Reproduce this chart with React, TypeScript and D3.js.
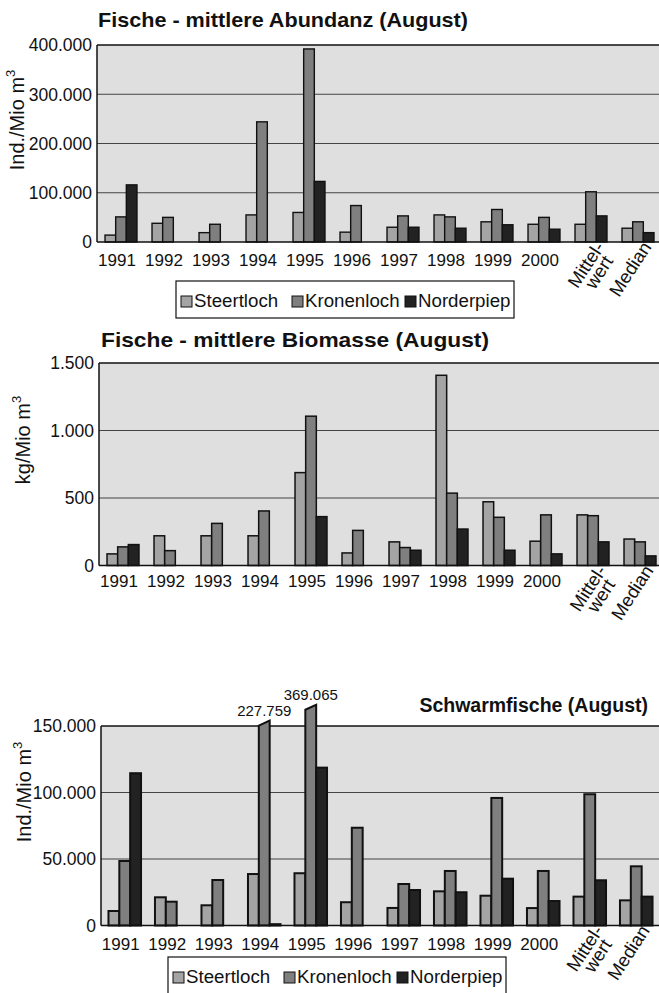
import React from "react";
import * as d3 from "d3";

const categories = ["1991", "1992", "1993", "1994", "1995", "1996", "1997", "1998", "1999", "2000", "Mittelwert", "Median"];
const rotatedLabels: Record<string, string[]> = { Mittelwert: ["Mittel-", "wert"], Median: ["Median"] };
const seriesNames = ["Steertloch", "Kronenloch", "Norderpiep"];
const seriesColors = ["#a4a4a4", "#7f7f7f", "#222222"];

// Fische - mittlere Abundanz (Ind./Mio m3)
const abundSteertloch = [14000, 38000, 19000, 55000, 60000, 20000, 30000, 55000, 41000, 36000, 36000, 28000];
const abundKronenloch = [51000, 50000, 36000, 244000, 392000, 74000, 53000, 51000, 66000, 50000, 102000, 41000];
const abundNorderpiep = [116000, 0, 0, 0, 123000, 0, 30000, 28000, 35000, 26000, 53000, 19000];

// Fische - mittlere Biomasse (kg/Mio m3)
const bioSteertloch = [86, 220, 220, 220, 688, 93, 175, 1409, 472, 180, 375, 196];
const bioKronenloch = [138, 110, 312, 404, 1106, 260, 133, 536, 357, 375, 369, 175];
const bioNorderpiep = [155, 0, 0, 0, 362, 0, 113, 270, 113, 86, 175, 71];

// Schwarmfische (Ind./Mio m3)
const schwarmSteertloch = [10900, 21200, 15200, 38700, 39300, 17500, 13200, 25700, 22400, 13100, 21700, 18900];
const schwarmKronenloch = [48500, 17900, 34200, 227759, 369065, 73500, 31200, 41000, 95900, 41000, 98700, 44500];
const schwarmNorderpiep = [114500, 0, 0, 1000, 118700, 0, 26700, 25000, 35200, 18400, 34000, 21700];
// shown height of the broken bars (axis ends at 150.000)
const schwarmBrokenTops: Record<string, number> = { "1994": 154000, "1995": 166000 };

const abundTicks = [0, 100000, 200000, 300000, 400000];
const bioTicks = [0, 500, 1000, 1500];
const schwarmTicks = [0, 50000, 100000, 150000];

const FONT = "'Liberation Sans', Arial, Helvetica, sans-serif";
const deFmt = d3.formatLocale({ decimal: ",", thousands: ".", grouping: [3], currency: ["", "€"] }).format(",");

type Cfg = {
  series: number[][];
  ticks: number[];
  yMax: number;
  left: number;
  top: number;
  zeroY: number;
  right: number;
  step: number;
  padIn: number;
  padOut: number;
  barStroke: number;
  title: string;
  titleX: number;
  titleY: number;
  titleSize: number;
  titleLen?: number;
  titleAnchor: "start" | "end";
  yLabel: string;
  yLabelX: number;
  yLabelY: number;
  xLabelDy: number;
  legendX?: number;
  legendY?: number;
  brokenTops?: Record<string, number>;
};

function BarChart({ cfg }: { cfg: Cfg }) {
  const x = d3
    .scaleBand<string>()
    .domain(categories)
    .range([cfg.left + 0.5, cfg.left + 0.5 + cfg.step * categories.length])
    .paddingInner(cfg.padIn)
    .paddingOuter(cfg.padOut);
  const xs = d3.scaleBand<string>().domain(seriesNames).range([0, x.bandwidth()]);
  const y = d3.scaleLinear().domain([0, cfg.yMax]).range([cfg.zeroY, cfg.top]);

  const bars: React.ReactNode[] = [];
  const overLabels: React.ReactNode[] = [];
  categories.forEach((cat, ci) => {
    seriesNames.forEach((s, si) => {
      const v = cfg.series[si][ci];
      if (!v) return;
      const x0 = (x(cat) ?? 0) + (xs(s) ?? 0);
      const x1 = x0 + xs.bandwidth();
      if (v > cfg.yMax && cfg.brokenTops) {
        const shown = cfg.brokenTops[cat] ?? cfg.yMax;
        const yr = y(shown);
        const yl = yr + 5;
        bars.push(
          <path
            key={cat + s}
            d={`M${x0},${cfg.zeroY}V${yl}L${x1},${yr}V${cfg.zeroY}Z`}
            fill={seriesColors[si]}
            stroke="#111"
            strokeWidth={cfg.barStroke}
          />
        );
        overLabels.push(
          <text key={"l" + cat} x={(x0 + x1) / 2} y={yr - 5} textAnchor="middle" fontSize={15} fill="#111">
            {deFmt(v)}
          </text>
        );
        return;
      }
      bars.push(
        <rect
          key={cat + s}
          x={x0}
          y={y(v)}
          width={xs.bandwidth()}
          height={cfg.zeroY - y(v)}
          fill={seriesColors[si]}
          stroke="#111"
          strokeWidth={cfg.barStroke}
        />
      );
    });
  });

  const legendOffsets = [5, 116, 229];

  return (
    <g fontFamily={FONT}>
      <rect x={cfg.left} y={cfg.top} width={cfg.right - cfg.left} height={cfg.zeroY - cfg.top} fill="#dfdfdf" />
      {cfg.ticks.slice(1, -1).map(t => (
        <line key={t} x1={cfg.left} x2={cfg.right} y1={y(t)} y2={y(t)} stroke="#444" strokeWidth={1.2} />
      ))}
      <line x1={cfg.left} x2={cfg.right} y1={cfg.top} y2={cfg.top} stroke="#111" strokeWidth={1.5} />
      {bars}
      <line x1={cfg.left} x2={cfg.left} y1={cfg.top} y2={cfg.zeroY} stroke="#111" strokeWidth={1.5} />
      <line x1={cfg.left} x2={cfg.right} y1={cfg.zeroY} y2={cfg.zeroY} stroke="#111" strokeWidth={1.5} />
      {overLabels}
      {cfg.ticks.map(t => (
        <text key={t} x={cfg.left - 5} y={y(t)} dy="0.36em" textAnchor="end" fontSize={17.5} fill="#111">
          {deFmt(t)}
        </text>
      ))}
      {categories.map(cat => {
        const cx = (x(cat) ?? 0) + x.bandwidth() / 2;
        const lines = rotatedLabels[cat];
        if (!lines) {
          return (
            <text key={cat} x={cx - 4} y={cfg.zeroY + cfg.xLabelDy} textAnchor="middle" fontSize={17} fill="#111">
              {cat}
            </text>
          );
        }
        return (
          <g key={cat} transform={`translate(${cx + 14},${cfg.zeroY + 5}) rotate(-57)`}>
            {lines.map((ln, i) => (
              <text key={ln} x={-7 * i} y={15 * i} textAnchor="end" fontSize={18.5} fill="#111">
                {ln}
              </text>
            ))}
          </g>
        );
      })}
      <text
        x={cfg.titleX}
        y={cfg.titleY}
        textAnchor={cfg.titleAnchor}
        fontSize={cfg.titleSize}
        fontWeight="bold"
        fill="#111"
        textLength={cfg.titleLen}
        lengthAdjust={cfg.titleLen ? "spacingAndGlyphs" : undefined}
      >
        {cfg.title}
      </text>
      <text
        transform={`translate(${cfg.yLabelX},${cfg.yLabelY}) rotate(-90)`}
        textAnchor="middle"
        fontSize={20}
        fill="#111"
      >
        {cfg.yLabel}
        <tspan fontSize={13} dy="-0.7em">3</tspan>
      </text>
      {cfg.legendX !== undefined && cfg.legendY !== undefined && (
        <g transform={`translate(${cfg.legendX},${cfg.legendY})`}>
          <rect x={0} y={0} width={338} height={37} fill="#fff" stroke="#111" strokeWidth={1.2} />
          {seriesNames.map((s, i) => (
            <g key={s} transform={`translate(${legendOffsets[i]},0)`}>
              <rect x={0} y={15} width={11} height={11} fill={seriesColors[i]} stroke="#111" strokeWidth={1} />
              <text x={13} y={26} fontSize={18.7} fill="#111">
                {s}
              </text>
            </g>
          ))}
        </g>
      )}
    </g>
  );
}

const abundCfg: Cfg = {
  series: [abundSteertloch, abundKronenloch, abundNorderpiep],
  ticks: abundTicks,
  yMax: 400000,
  left: 97,
  top: 45,
  zeroY: 242,
  right: 659,
  step: 47,
  padIn: 0.32,
  padOut: 0.16,
  barStroke: 1.4,
  title: "Fische - mittlere Abundanz (August)",
  titleX: 98,
  titleY: 27,
  titleSize: 21,
  titleLen: 370,
  titleAnchor: "start",
  yLabel: "Ind./Mio m",
  yLabelX: 24,
  yLabelY: 120,
  xLabelDy: 24,
  legendX: 176,
  legendY: 281,
};

const bioCfg: Cfg = {
  series: [bioSteertloch, bioKronenloch, bioNorderpiep],
  ticks: bioTicks,
  yMax: 1500,
  left: 99,
  top: 363,
  zeroY: 565.5,
  right: 659,
  step: 47,
  padIn: 0.32,
  padOut: 0.16,
  barStroke: 1.5,
  title: "Fische - mittlere Biomasse (August)",
  titleX: 101,
  titleY: 347,
  titleSize: 21,
  titleLen: 388,
  titleAnchor: "start",
  yLabel: "kg/Mio m",
  yLabelX: 30,
  yLabelY: 440,
  xLabelDy: 21,
};

const schwarmCfg: Cfg = {
  series: [schwarmSteertloch, schwarmKronenloch, schwarmNorderpiep],
  ticks: schwarmTicks,
  yMax: 150000,
  left: 101,
  top: 726,
  zeroY: 925.5,
  right: 659,
  step: 46.5,
  padIn: 0.3,
  padOut: 0.15,
  barStroke: 2,
  title: "Schwarmfische (August)",
  titleX: 648,
  titleY: 712,
  titleSize: 19.5,
  titleAnchor: "end",
  yLabel: "Ind./Mio m",
  yLabelX: 31,
  yLabelY: 792,
  xLabelDy: 24,
  legendX: 168,
  legendY: 957,
  brokenTops: schwarmBrokenTops,
};

export default function App() {
  return (
    <svg
      width={659}
      height={993}
      style={{ position: "absolute", left: 0, top: 0, display: "block", background: "#fff" }}
    >
      <BarChart cfg={abundCfg} />
      <BarChart cfg={bioCfg} />
      <BarChart cfg={schwarmCfg} />
    </svg>
  );
}
